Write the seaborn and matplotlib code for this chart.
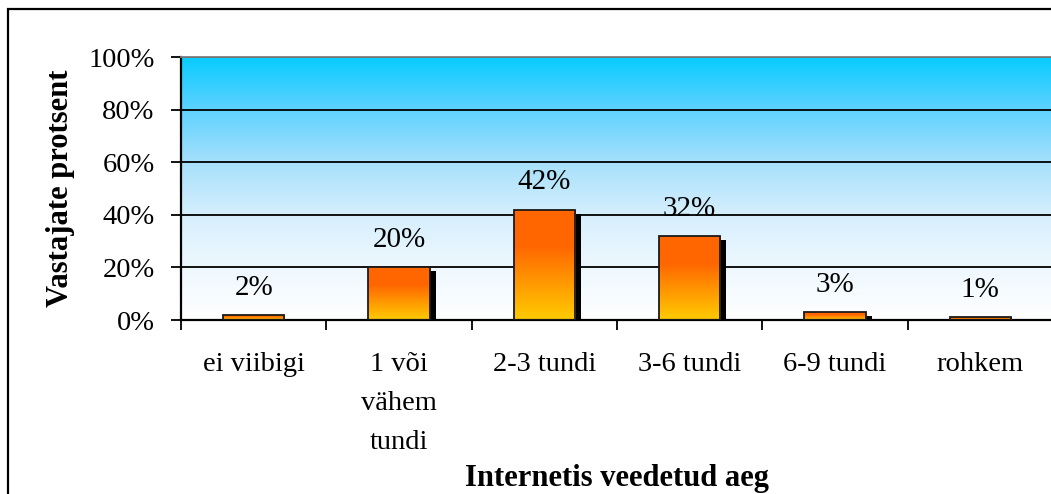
import matplotlib
matplotlib.use("Agg")
import matplotlib.pyplot as plt
import matplotlib.transforms as mtransforms
from matplotlib.colors import LinearSegmentedColormap
from matplotlib.patches import Rectangle
from matplotlib.ticker import PercentFormatter, FixedLocator
import seaborn as sns
import numpy as np
import pandas as pd

# data
categories = ["ei viibigi", "1 või\nvähem\ntundi", "2-3 tundi", "3-6 tundi", "6-9 tundi", "rohkem"]
shares = [0.02, 0.20, 0.42, 0.32, 0.03, 0.01]
value_labels = ["2%", "20%", "42%", "32%", "3%", "1%"]

df = pd.DataFrame({"aeg": categories, "osa": shares})

sns.set_theme(style="white")
plt.rcParams["font.family"] = ["Liberation Serif", "DejaVu Serif"]
plt.rcParams["text.color"] = "black"
plt.rcParams["axes.labelcolor"] = "black"
plt.rcParams["xtick.color"] = "black"
plt.rcParams["ytick.color"] = "black"

fig = plt.figure(figsize=(10.51, 4.94), dpi=100)
ax = fig.add_axes([181 / 1051, 1 - 320 / 494, 872 / 1051, 263 / 494])

sns.barplot(data=df, x="aeg", y="osa", ax=ax, width=0.42,
            facecolor="none", edgecolor="#1a1a1a", linewidth=1.3, zorder=3)

# background gradient (cyan at top -> white at bottom)
bg_cmap = LinearSegmentedColormap.from_list(
    "bg", [(0.0, "#ffffff"), (0.2, "#eef8fe"), (0.4, "#d6effd"),
           (0.6, "#a6e0fb"), (0.8, "#5fd2ff"), (1.0, "#08ccff")])
grad = np.linspace(0, 1, 256).reshape(-1, 1)
ax.imshow(grad, cmap=bg_cmap, origin="lower", aspect="auto",
          extent=[0, 1, 0, 1], transform=ax.transAxes, zorder=-1)

# bars: black drop shadow + orange/yellow gradient clipped to each bar
bar_cmap = LinearSegmentedColormap.from_list("bar", ["#ffcc00", "#ff9900", "#ff6600", "#ff6600"])
shadow_shift = mtransforms.ScaledTranslation(6 / 100, -4 / 100, fig.dpi_scale_trans)
bars = list(ax.patches)
for p in bars:
    x0, w, h = p.get_x(), p.get_width(), p.get_height()
    shadow = Rectangle((x0, 0), w, h, facecolor="black", edgecolor="none",
                       transform=ax.transData + shadow_shift, zorder=1.5)
    ax.add_patch(shadow)
    im = ax.imshow(grad, cmap=bar_cmap, origin="lower", aspect="auto",
                   extent=[x0, x0 + w, 0, h], zorder=2)
    im.set_clip_path(p)
ax.set_xlim(-0.5, len(categories) - 0.5)
ax.set_ylim(0, 1)

# value labels above bars
for p, lab in zip(bars, value_labels):
    ax.annotate(lab, (p.get_x() + p.get_width() / 2, p.get_height()),
                xytext=(0, 19.5), textcoords="offset points",
                ha="center", va="center", fontsize=21, color="black", zorder=5)

# grid
ax.yaxis.set_major_locator(FixedLocator([0, 0.2, 0.4, 0.6, 0.8, 1.0]))
ax.yaxis.set_major_formatter(PercentFormatter(1.0, decimals=0))
ax.grid(axis="y", color="black", linewidth=1.3)
ax.set_axisbelow(True)

# x ticks: marks at category boundaries, labels at centers
ax.set_xticks(np.arange(-0.5, len(categories)), labels=[""] * (len(categories) + 1))
ax.set_xticks(np.arange(len(categories)), labels=categories, minor=True)
ax.tick_params(axis="x", which="major", direction="out", length=7, width=1.3,
               color="black", bottom=True)
ax.tick_params(axis="x", which="minor", length=0, pad=23, labelsize=20.5)
for t in ax.get_xticklabels(minor=True):
    t.set_linespacing(1.75)
ax.tick_params(axis="y", direction="out", length=7, width=1.3, color="black",
               left=True, pad=12, labelsize=20.5)

for side in ["left", "bottom"]:
    ax.spines[side].set_color("black")
    ax.spines[side].set_linewidth(1.6)
ax.spines["top"].set_color("#808080")
ax.spines["top"].set_linewidth(1.3)
ax.spines["right"].set_visible(False)

ax.set_xlabel("Internetis veedetud aeg", fontsize=22, fontweight="bold")
ax.xaxis.set_label_coords(0.5, -0.5475)
ax.set_ylabel("Vastajate protsent", fontsize=22, fontweight="bold")
ax.yaxis.set_label_coords(-0.121, 0.5)

# outer chart frame
fig.patches.append(Rectangle((8 / 1051, -0.1), 1.2, 1 - 9 / 494 + 0.1,
                             transform=fig.transFigure, facecolor="none",
                             edgecolor="black", linewidth=1.6, zorder=10))

fig.savefig("out.png", dpi=100)
